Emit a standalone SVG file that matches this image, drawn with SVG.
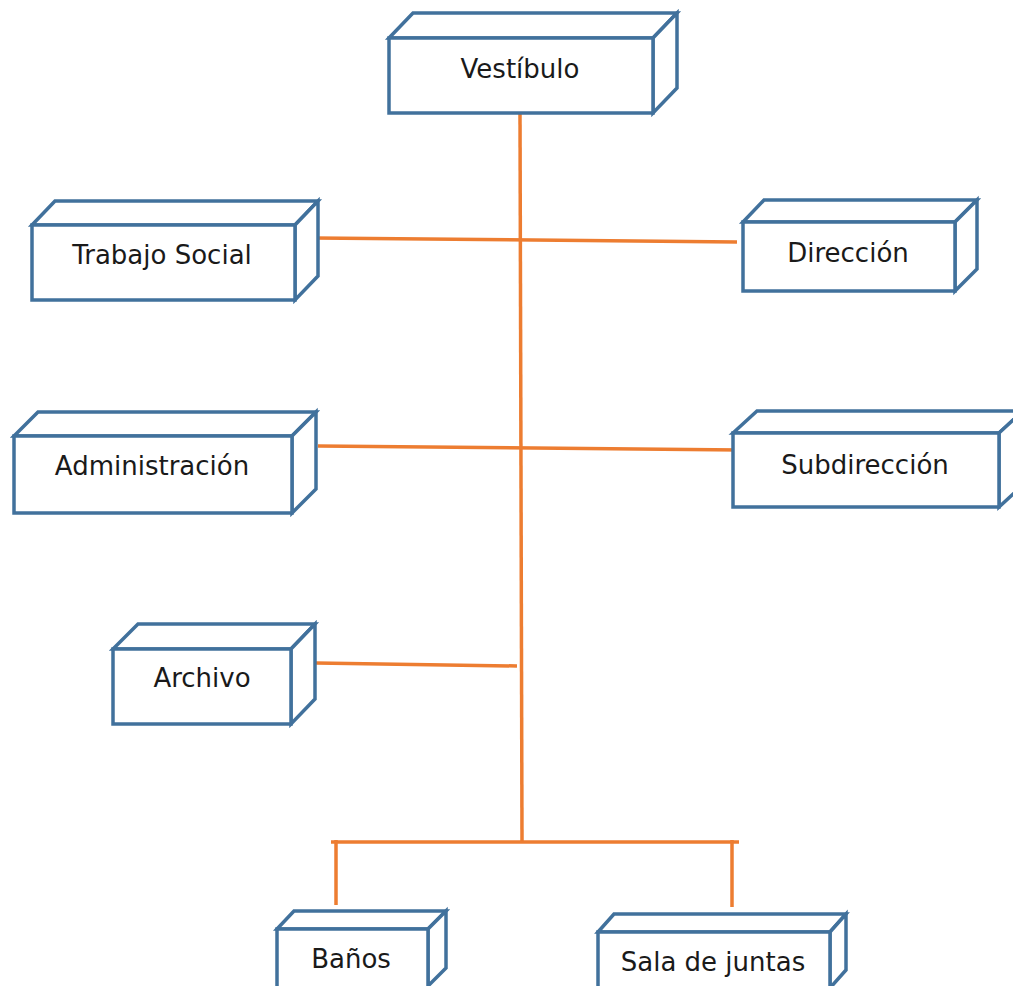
<svg xmlns="http://www.w3.org/2000/svg" width="1013" height="986" viewBox="0 0 1013 986">
<style>
.box{fill:#fff;stroke:#41719C;stroke-width:3.5;stroke-linejoin:miter}
.lbl{font-family:"DejaVu Sans","Liberation Sans",sans-serif;font-size:26px;fill:#1a1a1a;text-anchor:middle}
.con{stroke:#ED7D31;stroke-width:3.5;fill:none}
</style>
<rect width="1013" height="986" fill="#fff"/>
<g id="connectors">
<line class="con" x1="520" y1="113" x2="522" y2="841"/>
<line class="con" x1="315" y1="238" x2="737" y2="242"/>
<line class="con" x1="318" y1="446" x2="740" y2="450"/>
<line class="con" x1="316" y1="663" x2="517" y2="666"/>
<line class="con" x1="331" y1="842" x2="739" y2="842"/>
<line class="con" x1="336" y1="840" x2="336" y2="905"/>
<line class="con" x1="732" y1="840" x2="732" y2="907"/>
</g>
<g id="vestibulo">
<path class="box" d="M389,38 L413,13 L677,13 L653,38 Z"/>
<path class="box" d="M653,38 L677,13 L677,88 L653,113 Z"/>
<rect class="box" x="389" y="38" width="264" height="75"/>
<text class="lbl" x="520" y="78">Vestíbulo</text>
</g>
<g id="trabajo-social">
<path class="box" d="M32,225 L55,201 L318,201 L295,225 Z"/>
<path class="box" d="M295,225 L318,201 L318,276 L295,300 Z"/>
<rect class="box" x="32" y="225" width="263" height="75"/>
<text class="lbl" x="162" y="264">Trabajo Social</text>
</g>
<g id="direccion">
<path class="box" d="M743,222 L764,200 L977,200 L955,222 Z"/>
<path class="box" d="M955,222 L977,200 L977,269 L955,291 Z"/>
<rect class="box" x="743" y="222" width="212" height="69"/>
<text class="lbl" x="848" y="262">Dirección</text>
</g>
<g id="administracion">
<path class="box" d="M14,436 L38,412 L316,412 L292,436 Z"/>
<path class="box" d="M292,436 L316,412 L316,489 L292,513 Z"/>
<rect class="box" x="14" y="436" width="278" height="77"/>
<text class="lbl" x="152" y="475">Administración</text>
</g>
<g id="subdireccion">
<path class="box" d="M733,433 L757,411 L1023,411 L999,433 Z"/>
<path class="box" d="M999,433 L1023,411 L1023,485 L999,507 Z"/>
<rect class="box" x="733" y="433" width="266" height="74"/>
<text class="lbl" x="865" y="474">Subdirección</text>
</g>
<g id="archivo">
<path class="box" d="M113,649 L138,624 L315,624 L291,649 Z"/>
<path class="box" d="M291,649 L315,624 L315,699 L291,724 Z"/>
<rect class="box" x="113" y="649" width="178" height="75"/>
<text class="lbl" x="202" y="687">Archivo</text>
</g>
<g id="banos">
<path class="box" d="M277,929 L294,911 L446,911 L428,929 Z"/>
<path class="box" d="M428,929 L446,911 L446,968 L428,986 Z"/>
<rect class="box" x="277" y="929" width="151" height="60"/>
<text class="lbl" x="351" y="968">Baños</text>
</g>
<g id="sala-de-juntas">
<path class="box" d="M598,932 L614,914 L846,914 L830,932 Z"/>
<path class="box" d="M830,932 L846,914 L846,970 L830,988 Z"/>
<rect class="box" x="598" y="932" width="232" height="60"/>
<text class="lbl" x="713" y="971">Sala de juntas</text>
</g>
</svg>
